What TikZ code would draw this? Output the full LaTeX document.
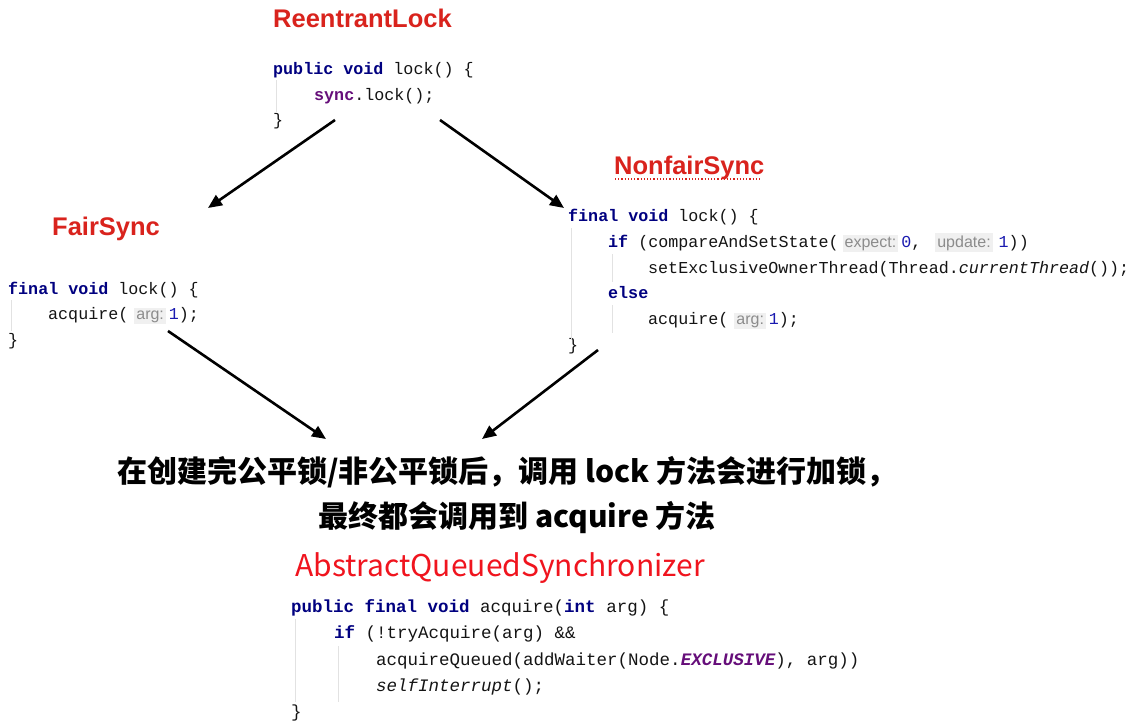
\documentclass[tikz,border=0pt]{standalone}
\usepackage{fontspec}
\usetikzlibrary{arrows.meta}
\setmainfont{Liberation Sans}
\newfontfamily\codefont{Liberation Mono}
\newfontfamily\hintfont{Liberation Sans}
\newfontfamily\cjk{Noto Sans CJK SC}
\definecolor{titlered}{HTML}{D9231D}
\definecolor{aqsred}{HTML}{F0141E}
\definecolor{kw}{HTML}{000080}
\definecolor{codetext}{HTML}{141414}
\definecolor{num}{HTML}{1A1AB0}
\definecolor{field}{HTML}{660E7A}
\definecolor{hintgray}{HTML}{8C8C8C}
\definecolor{hintbg}{HTML}{F0F0F0}
\definecolor{guide}{HTML}{E2E2E2}
\newcommand{\kwd}[1]{{\bfseries\color{kw}#1}}
\newcommand{\nm}[1]{{\color{num}#1}}
\newcommand{\hintb}[1]{{\setlength{\fboxsep}{2pt}\colorbox{hintbg}{\hintfont\fontsize{16}{17}\selectfont\color{hintgray}#1}}}
\begin{document}
\begin{tikzpicture}[x=1pt,y=-1pt,
  title/.style={anchor=base west,inner sep=0pt,font=\bfseries\fontsize{25.5}{28}\selectfont,text=titlered},
  code/.style={anchor=base west,inner sep=0pt,font=\codefont\fontsize{16.7}{20}\selectfont,text=codetext},
  codeb/.style={anchor=base west,inner sep=0pt,font=\codefont\fontsize{17.5}{20}\selectfont,text=codetext},
  note/.style={anchor=base,inner sep=0pt,font=\cjk\bfseries\fontsize{30}{34}\selectfont,text=black},
  arrowline/.style={line width=2.6pt,-{Triangle[length=14pt,width=12pt]}},
  guideline/.style={draw=guide,line width=0.9pt}]
\useasboundingbox[fill=white] (0,0) rectangle (1135,726);

% ReentrantLock
\node[title] (rl) at (273,27) {ReentrantLock};
\node[code] (rl1) at (273,74) {\kwd{public void} lock() \{};
\node[code] (rl2) at (314,100) {{\bfseries\color{field}sync}.lock();};
\node[code] (rl3) at (273,125) {\}};
\draw[guideline] (276,80) -- (276,112);

% FairSync
\node[title] (fs) at (52,235) {FairSync};
\node[code] (fs1) at (8,294) {\kwd{final void} lock() \{};
\node[code] (fs2) at (48,319) {acquire(\hspace{6pt}\hintb{arg:}\hspace{3pt}\nm{1});};
\node[code] (fs3) at (8,345) {\}};
\draw[guideline] (11,300) -- (11,331);

% NonfairSync
\node[title] (nf) at (614,174) {NonfairSync};
\draw[titlered,line width=1.2pt,dotted] (615,179) -- (760,179);
\node[code] (nf1) at (568,221) {\kwd{final void} lock() \{};
\node[code] (nf2) at (608,247) {\kwd{if} (compareAndSetState(\hspace{4pt}\hintb{expect:}\hspace{3pt}\nm{0},\hspace{14pt}\hintb{update:}\hspace{6pt}\nm{1}))};
\node[code] (nf3) at (648,273) {setExclusiveOwnerThread(Thread.\textit{currentThread}());};
\node[code] (nf4) at (608,298) {\kwd{else}};
\node[code] (nf5) at (648,324) {acquire(\hspace{6pt}\hintb{arg:}\hspace{3pt}\nm{1});};
\node[code] (nf6) at (568,350) {\}};
\draw[guideline] (571,228) -- (571,340);
\draw[guideline] (612,254) -- (612,282);
\draw[guideline] (612,305) -- (612,333);

% Note
\node[note] (n1) at (507,482) {在创建完公平锁/非公平锁后，调用 lock 方法会进行加锁，};
\node[note] (n2) at (517,527) {最终都会调用到 acquire 方法};

% AQS
\node[anchor=base,inner sep=0pt,font=\cjk\fontsize{30}{34}\selectfont,text=aqsred] (aqs) at (500,576) {AbstractQueuedSynchronizer};
\node[codeb] (a1) at (291,612) {\kwd{public final void} acquire(\kwd{int} arg) \{};
\node[codeb] (a2) at (334,638) {\kwd{if} (!tryAcquire(arg) \&\&};
\node[codeb] (a3) at (376,665) {acquireQueued(addWaiter(Node.{\bfseries\itshape\color{field}EXCLUSIVE}), arg))};
\node[codeb] (a4) at (376,691) {\textit{selfInterrupt}();};
\node[codeb] (a5) at (291,717) {\}};
\draw[guideline] (295,619) -- (295,702);
\draw[guideline] (338,646) -- (338,702);

% Arrows
\coordinate (s1) at (335,120); \coordinate (e1) at (208,208);
\coordinate (s2) at (440,120); \coordinate (e2) at (564,208);
\coordinate (s3) at (168,331); \coordinate (e3) at (326,439);
\coordinate (s4) at (598,350); \coordinate (e4) at (482,439);
\draw[arrowline] (s1) -- (e1);
\draw[arrowline] (s2) -- (e2);
\draw[arrowline] (s3) -- (e3);
\draw[arrowline] (s4) -- (e4);
\end{tikzpicture}
\end{document}
